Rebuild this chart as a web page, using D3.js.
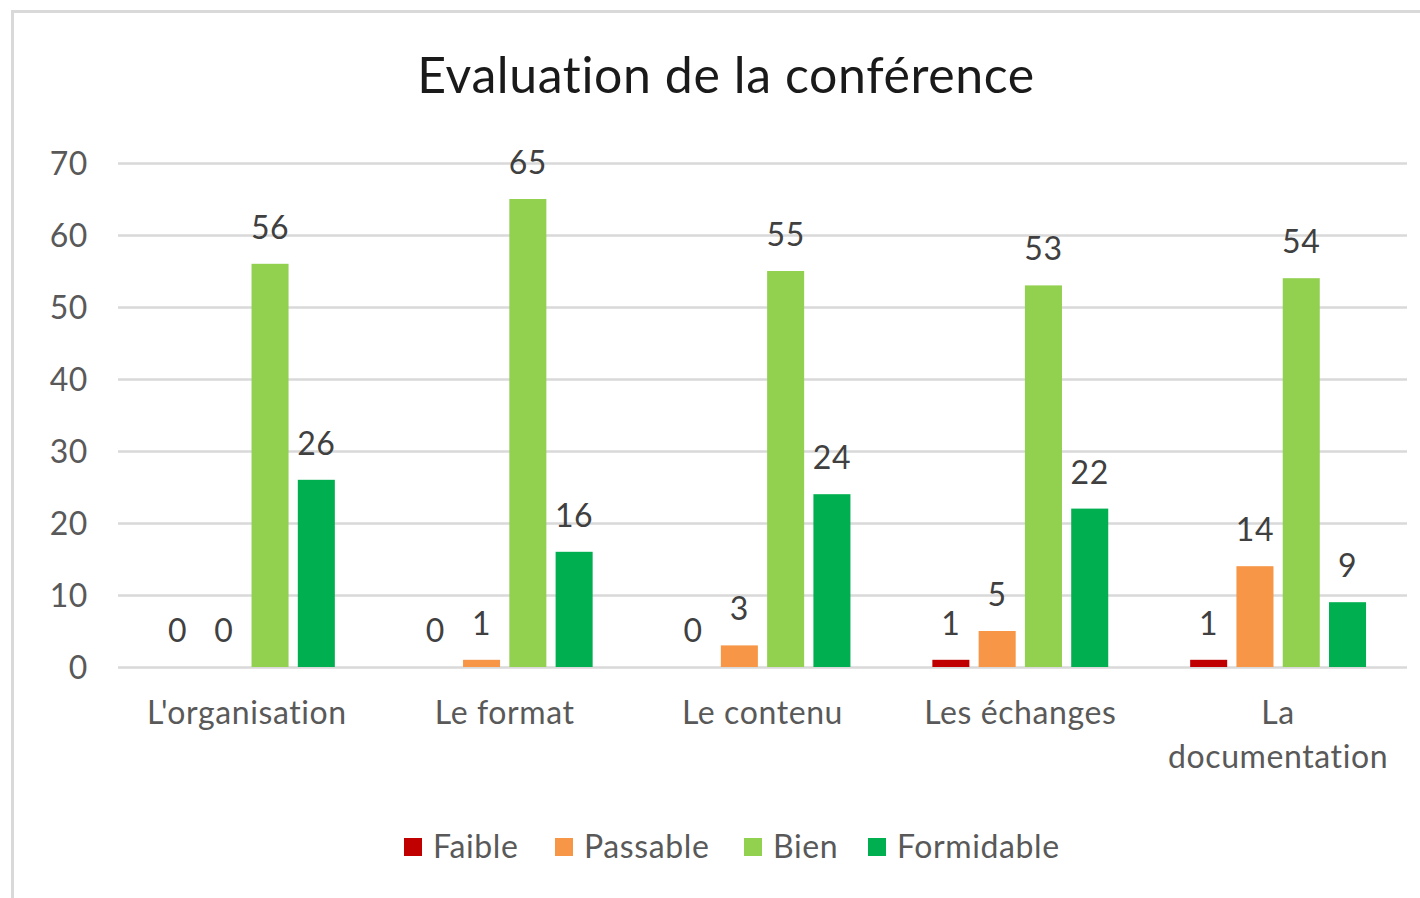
<!DOCTYPE html>
<html><head><meta charset="utf-8">
<script src="https://cdn.jsdelivr.net/npm/d3@7"></script>
<style>
html,body{margin:0;padding:0;background:#fff;}
svg{display:block;font-family:Lato,"Open Sans",sans-serif;}
</style></head>
<body>
<svg id="c" width="1420" height="898"></svg>
<script>
const categories = ["L'organisation","Le format","Le contenu","Les échanges","La documentation"];
const seriesNames = ["Faible","Passable","Bien","Formidable"];
const faible = [0,0,0,1,1];
const passable = [0,1,3,5,14];
const bien = [56,65,55,53,54];
const formidable = [26,16,24,22,9];
const seriesValues = [faible, passable, bien, formidable];
const colors = ["#C00000","#F79646","#92D050","#00B050"];
const yTicks = [0,10,20,30,40,50,60,70];
// which zero labels are shown (as in the reference)
const showLabel = [[true,true,true,false,false],[true,false,false,false,false]];

const svg = d3.select("#c");
const W=1420,H=898;
const m={left:118,right:13,top:163,bottom:231};
const FS=32, LS="0.6px";

// border
svg.append("path").attr("d","M12.5,898 V11.5 H1420").attr("fill","none").attr("stroke","#d9d9d9").attr("stroke-width",3);

svg.append("text").attr("x",726).attr("y",93).attr("text-anchor","middle")
  .attr("font-size",50).attr("letter-spacing","0.6px").attr("fill","#1a1a1a").text("Evaluation de la conférence");

const x0 = d3.scaleBand().domain(categories).range([m.left,W-m.right]).paddingInner(0).paddingOuter(0);
const x1 = d3.scaleBand().domain(seriesNames).range([0,x0.bandwidth()]).paddingInner(0.2).paddingOuter(0.885);
const y = d3.scaleLinear().domain([0,70]).range([H-m.bottom,m.top]);

const yAxis = d3.axisLeft(y).tickValues(yTicks).tickSize(-(W-m.right-m.left)).tickPadding(30).tickFormat(d3.format("d"));
const gy = svg.append("g").attr("transform",`translate(${m.left},0)`).call(yAxis);
gy.select(".domain").remove();
gy.selectAll(".tick line").attr("stroke","#d9d9d9").attr("stroke-width",2.5);
gy.selectAll(".tick text").attr("font-size",FS).attr("letter-spacing",LS).attr("fill","#595959").attr("font-family","Lato,sans-serif").attr("dy","0.35em");

const groups = svg.append("g").selectAll("g").data(categories).join("g")
  .attr("transform",d=>`translate(${x0(d)},0)`);
seriesNames.forEach((s,si)=>{
  groups.append("rect")
    .attr("x",x1(s)).attr("width",x1.bandwidth())
    .attr("y",(d,i)=>y(seriesValues[si][i]))
    .attr("height",(d,i)=>y(0)-y(seriesValues[si][i]))
    .attr("fill",colors[si]);
  groups.filter((d,i)=> seriesValues[si][i]!==0 || (showLabel[si] && showLabel[si][i]))
    .append("text")
    .attr("x",x1(s)+x1.bandwidth()/2)
    .attr("y",(d)=>{const i=categories.indexOf(d);return y(seriesValues[si][i])-25;})
    .attr("text-anchor","middle").attr("font-size",FS).attr("letter-spacing",LS).attr("fill","#404040")
    .text(d=>seriesValues[si][categories.indexOf(d)]);
});

// x axis labels
const xl = svg.append("g");
categories.forEach(c=>{
  const cx = x0(c)+x0.bandwidth()/2;
  const t = xl.append("text").attr("x",cx).attr("y",724).attr("text-anchor","middle").attr("font-size",FS).attr("letter-spacing",LS).attr("fill","#595959");
  if(c==="La documentation"){
    t.append("tspan").attr("x",cx).text("La");
    t.append("tspan").attr("x",cx).attr("dy",44).text("documentation");
  } else t.text(c);
});

// legend
const legX=[404,555,744,868];
const lg = svg.append("g");
seriesNames.forEach((s,i)=>{
  lg.append("rect").attr("x",legX[i]).attr("y",838).attr("width",18).attr("height",18).attr("fill",colors[i]);
  lg.append("text").attr("x",legX[i]+29).attr("y",858).attr("font-size",FS).attr("letter-spacing",LS).attr("fill","#595959").text(s);
});
</script>
</body></html>
